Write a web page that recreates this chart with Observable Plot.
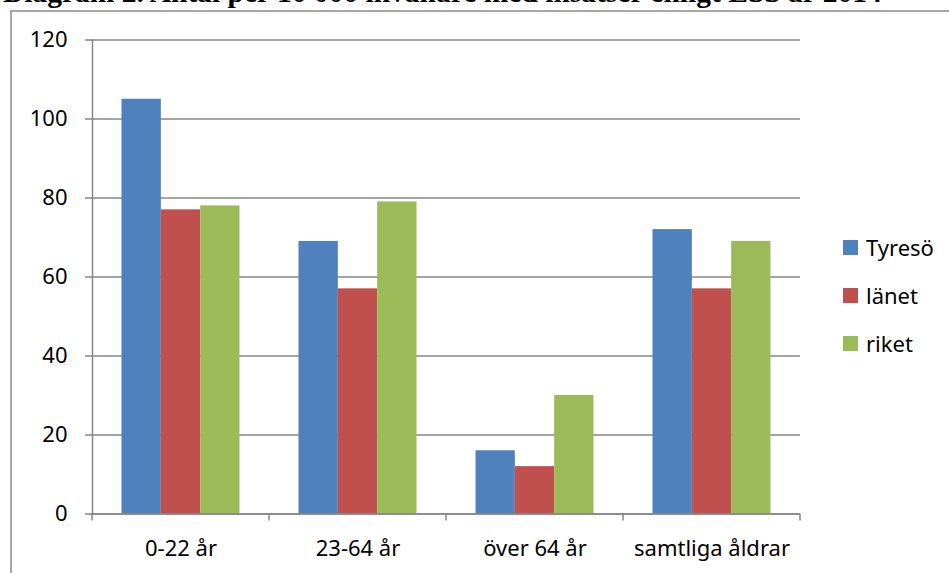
<!DOCTYPE html>
<html>
<head>
<meta charset="utf-8">
<script src="https://cdn.jsdelivr.net/npm/d3@7"></script>
<script src="https://cdn.jsdelivr.net/npm/@observablehq/plot@0.6"></script>
<style>
  html, body { margin: 0; padding: 0; background: #fff; overflow: hidden; }
  #wrap { position: relative; width: 949px; height: 573px; overflow: hidden; }
  #title { position: absolute; left: 3px; top: -22px; font: bold 29.5px "Liberation Serif", "Times New Roman", serif; line-height: 29.5px; white-space: nowrap; color: #000; }
  #frame { position: absolute; left: 10px; top: 10px; width: 1200px; height: 800px; border-left: 2px solid #a6a6a6; border-top: 2px solid #a6a6a6; box-sizing: border-box; }
  #chart { position: absolute; left: 0; top: 0; }
  #legend { position: absolute; left: 843px; top: 231px; font: 22px "Noto Sans", "Open Sans", sans-serif; color: #000; }
  .item { display: flex; align-items: center; height: 32px; margin-bottom: 16px; }
  .sw { width: 15px; height: 15px; margin-right: 8px; }
</style>
</head>
<body>
<div id="wrap">
  <div id="title">Diagram 2. Antal per 10 000 invånare med insatser enligt LSS år 2014</div>
  <div id="frame"></div>
  <div id="chart"></div>
  <div id="legend"></div>
</div>
<script>
const categories = ["0-22 år", "23-64 år", "över 64 år", "samtliga åldrar"];
const series = ["Tyresö", "länet", "riket"];
const tyreso = [105, 69, 16, 72];
const lanet = [77, 57, 12, 57];
const riket = [78, 79, 30, 69];
const yTicks = [0, 20, 40, 60, 80, 100, 120];
const colors = ["#4f81bd", "#c0504d", "#9bbb59"];

const values = [tyreso, lanet, riket];
const data = [];
series.forEach((s, si) => categories.forEach((c, ci) => data.push({category: c, series: s, value: values[si][ci]})));

const W = 949, H = 573;
const mL = 92, mR = 149, mT = 39.5, mB = 59.5;
const bandW = (W - mL - mR) / categories.length;
const barW = bandW / 4.5;
const inset = (bandW - barW) / 2;
const grey = "#868686";

// boundary tick marks along the category axis, using the x scale
const boundaryTicks = (index, scales, vals, dims) => {
  const x = scales.x;
  const bw = (scales.scales && scales.scales.x && scales.scales.x.bandwidth) || (x.bandwidth ? x.bandwidth() : 0);
  const y0 = scales.y(0);
  const g = d3.create("svg:g").attr("stroke", grey).attr("stroke-width", 1.5);
  const xs = categories.map(c => x(c));
  xs.push(x(categories[categories.length - 1]) + bw);
  for (const px of xs) g.append("line").attr("x1", px).attr("x2", px).attr("y1", y0).attr("y2", y0 + 7);
  return g.node();
};

const font = "'Noto Sans', 'Open Sans', sans-serif";
const chart = Plot.plot({
  width: W, height: H,
  marginLeft: mL, marginRight: mR, marginTop: mT, marginBottom: mB,
  style: {fontFamily: font, fontSize: "22px", color: "#000", background: "transparent"},
  x: {domain: categories, padding: 0, axis: null, label: null},
  y: {domain: [0, 120], axis: null, label: null},
  marks: [
    Plot.gridY(yTicks, {stroke: grey, strokeOpacity: 1, strokeWidth: 1.5}),
    ...series.map((s, si) => Plot.barY(data.filter(d => d.series === s), {
      x: "category", y: "value", fill: colors[si],
      insetLeft: inset, insetRight: inset, dx: (si - 1) * barW
    })),
    Plot.ruleY([0], {stroke: grey, strokeWidth: 1.5}),
    Plot.frame({anchor: "left", stroke: grey, strokeWidth: 1.5}),
    Plot.axisY(yTicks, {tickSize: 7, tickPadding: 18, stroke: grey, strokeWidth: 1.5, fill: "#000", fontSize: 22, tickFormat: d => String(d), label: null}),
    Plot.axisX({tickSize: 0, tickPadding: 26, fill: "#000", fontSize: 22, label: null}),
    boundaryTicks
  ]
});
document.getElementById("chart").appendChild(chart);

const legend = document.getElementById("legend");
series.forEach((s, i) => {
  const item = document.createElement("div");
  item.className = "item";
  const sw = document.createElement("div");
  sw.className = "sw";
  sw.style.background = colors[i];
  const t = document.createElement("span");
  t.textContent = s;
  item.appendChild(sw); item.appendChild(t);
  legend.appendChild(item);
});
</script>
</body>
</html>
